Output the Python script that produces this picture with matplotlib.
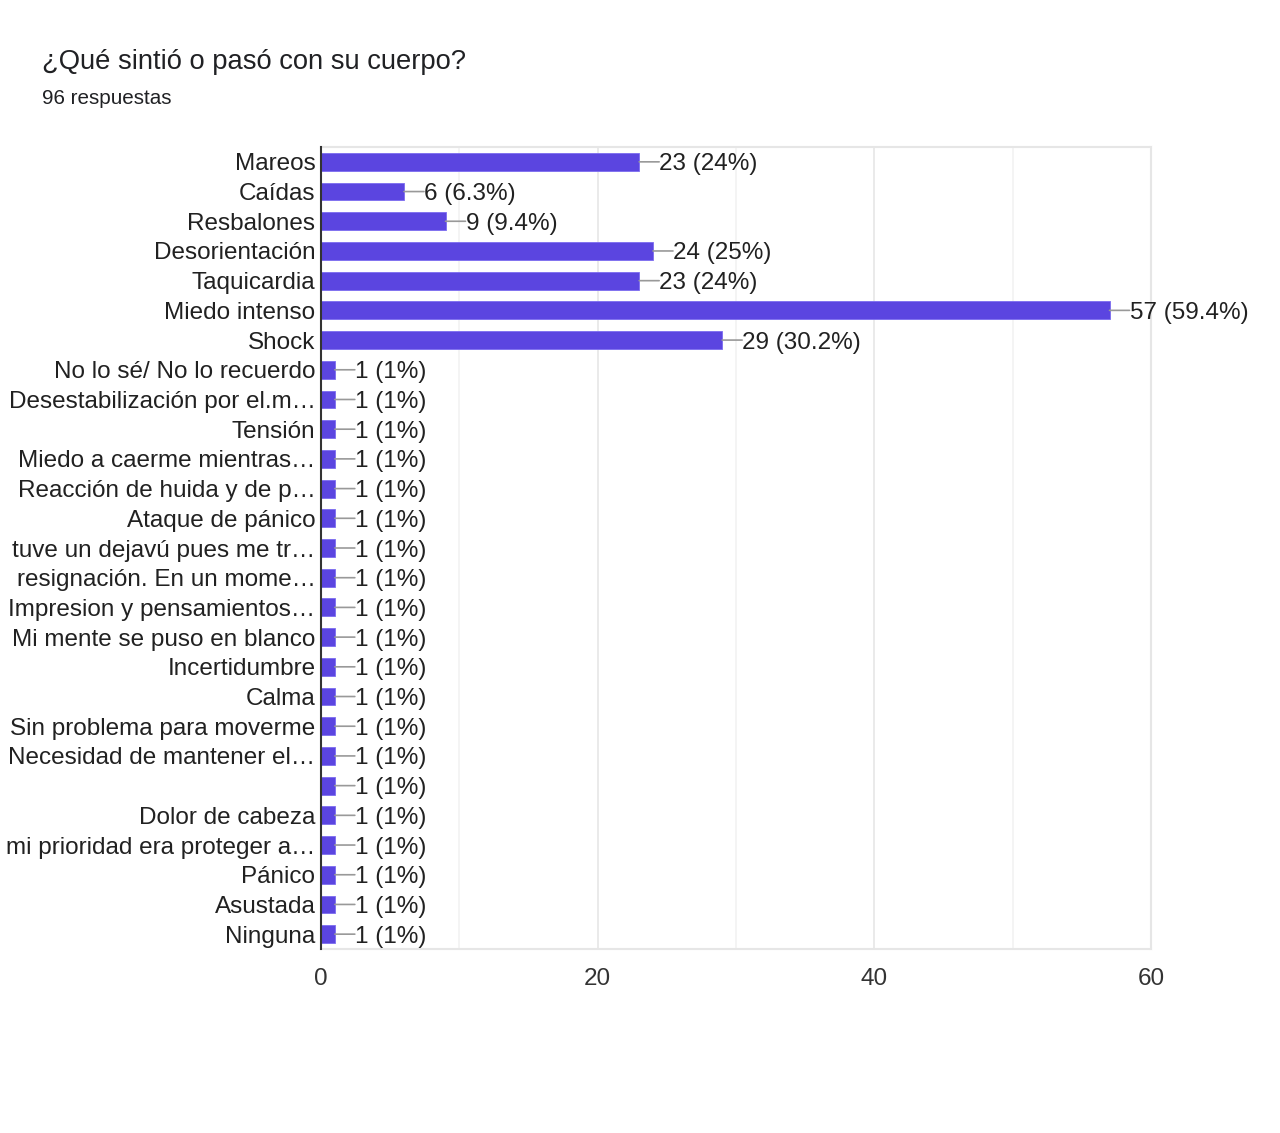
import matplotlib.pyplot as plt
from matplotlib.ticker import MultipleLocator

plt.rcParams['font.family'] = ['Liberation Sans', 'DejaVu Sans']

TITLE = "¿Qué sintió o pasó con su cuerpo?"
SUBTITLE = "96 respuestas"

labels = ["Mareos", "Caídas", "Resbalones", "Desorientación", "Taquicardia",
          "Miedo intenso", "Shock", "No lo sé/ No lo recuerdo",
          "Desestabilización por el.m…", "Tensión", "Miedo a caerme mientras…",
          "Reacción de huida y de p…", "Ataque de pánico",
          "tuve un dejavú pues me tr…", "resignación. En un mome…",
          "Impresion y pensamientos…", "Mi mente se puso en blanco",
          "Incertidumbre", "Calma", "Sin problema para moverme",
          "Necesidad de mantener el…", "", "Dolor de cabeza",
          "mi prioridad era proteger a…", "Pánico", "Asustada", "Ninguna"]
counts = [23, 6, 9, 24, 23, 57, 29] + [1] * 20
percents = ["24%", "6.3%", "9.4%", "25%", "24%", "59.4%", "30.2%"] + ["1%"] * 20

BAR = '#5b45e0'
TXT = '#212121'

fig = plt.figure(figsize=(12.8, 11.33), dpi=100)
ax = fig.add_axes([321 / 1280, 184 / 1133, 830 / 1280, 802 / 1133])

ypos = list(range(len(labels)))
ax.barh(ypos, counts, height=0.6, color=BAR, edgecolor='#7b6cf0', linewidth=0.6, zorder=3)

# value labels with a short grey leader line
for y, c, p in zip(ypos, counts, percents):
    ax.annotate("", xy=(c, y), xytext=(20, 0), textcoords='offset pixels',
                arrowprops=dict(arrowstyle='-', color='#999999', lw=1.2,
                                shrinkA=0, shrinkB=0))
    ax.annotate(f"{c} ({p})", xy=(c, y), xytext=(20, 0), textcoords='offset pixels',
                va='center_baseline', ha='left', fontsize=17.5, color=TXT)

ax.set_xlim(0, 60)
ax.set_ylim(len(labels) - 0.5, -0.5)
ax.set_yticks(ypos)
ax.set_yticklabels(labels, fontsize=17.5, color=TXT, va='center_baseline')
ax.xaxis.set_major_locator(MultipleLocator(20))
ax.xaxis.set_minor_locator(MultipleLocator(10))
ax.tick_params(axis='x', which='both', length=0, labelsize=17.5, labelcolor='#333333', pad=14)
ax.tick_params(axis='y', length=0, pad=4)
ax.grid(axis='x', which='major', color='#e6e6e6', lw=1.2, zorder=0)
ax.grid(axis='x', which='minor', color='#f2f2f2', lw=1.2, zorder=0)

for side in ('top', 'right', 'bottom'):
    ax.spines[side].set_color('#e6e6e6')
    ax.spines[side].set_linewidth(1.5)
ax.spines['left'].set_color('#333333')
ax.spines['left'].set_linewidth(1.5)
ax.spines['left'].set_zorder(4)

fig.text(42 / 1280, 1 - 62 / 1133, TITLE, fontsize=19.7, color='#202124', va='center')
fig.text(42 / 1280, 1 - 99 / 1133, SUBTITLE, fontsize=14.9, color='#202124', va='center')

fig.savefig('out.png', dpi=100, facecolor='white')
